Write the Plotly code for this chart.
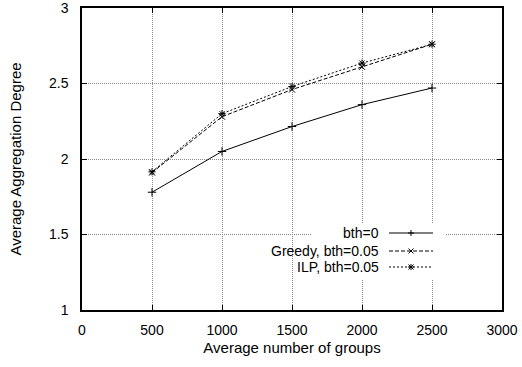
import plotly.graph_objects as go

groups = [500, 1000, 1500, 2000, 2500]
bth0 = [1.78, 2.05, 2.215, 2.36, 2.47]
greedy = [1.91, 2.28, 2.46, 2.61, 2.76]
ilp = [1.915, 2.30, 2.48, 2.635, 2.76]
names = ["bth=0", "Greedy, bth=0.05", "ILP, bth=0.05"]
xticks = [0, 500, 1000, 1500, 2000, 2500, 3000]
yticks = [1, 1.5, 2, 2.5, 3]

FONT = "Liberation Sans, Arial, Helvetica, sans-serif"
series = [
    (bth0, "solid", "cross-thin"),
    (greedy, "4px,2px", "x-thin"),
    (ilp, "2px,2px", "asterisk"),
]

fig = go.Figure()
for (vals, dash, sym), name in zip(series, names):
    fig.add_trace(go.Scatter(
        x=groups, y=vals, mode="lines+markers", name=name,
        line=dict(color="black", width=1, dash=dash),
        marker=dict(symbol=sym, size=6, color="black",
                    line=dict(color="black", width=1)),
        showlegend=False,
    ))

axis_common = dict(
    showline=True, linecolor="black", linewidth=1.5, mirror="ticks",
    ticks="inside", ticklen=5, tickwidth=1, tickcolor="black",
    showgrid=True, gridcolor="#8a8a8a", griddash="1px,1px", gridwidth=1,
    zeroline=False, automargin=False, ticklabeloverflow="allow",
    tickfont=dict(family=FONT, size=14, color="black"),
    title_font=dict(family=FONT, size=15, color="black"),
)
fig.update_xaxes(range=[0, 3000], tickvals=xticks, ticktext=[str(v) for v in xticks],
                 title_text="Average number of groups", title_standoff=6,
                 ticklabelstandoff=6, **axis_common)
fig.update_yaxes(range=[1, 3], tickvals=yticks, ticktext=[f"{v:g}" for v in yticks],
                 title_text="Average Aggregation Degree", title_standoff=24,
                 ticklabelstandoff=9, **axis_common)

L, R, T, B = 82, 20, 8, 57
W, H = 522, 367
pw, ph = W - L - R, H - T - B

def px(xp):
    return (xp - L) / pw

def py(yp):
    return (H - B - yp) / ph

shapes = []
# legend background masking grid
shapes.append(dict(type="rect", xref="paper", yref="paper",
                   x0=px(312), x1=px(445), y0=py(279), y1=py(224),
                   fillcolor="white", line=dict(width=0), layer="above"))
rows = [233, 251, 267]
annotations = []
for (vals, dash, sym), name, ry in zip(series, names, rows):
    shapes.append(dict(type="line", xref="paper", yref="paper",
                       x0=px(389), x1=px(433), y0=py(ry), y1=py(ry),
                       line=dict(color="black", width=1, dash=dash), layer="above"))
    cx = 411
    if sym in ("cross-thin", "asterisk"):
        shapes.append(dict(type="line", xref="paper", yref="paper",
                           x0=px(cx - 3), x1=px(cx + 3), y0=py(ry), y1=py(ry),
                           line=dict(color="black", width=1), layer="above"))
        shapes.append(dict(type="line", xref="paper", yref="paper",
                           x0=px(cx), x1=px(cx), y0=py(ry - 3), y1=py(ry + 3),
                           line=dict(color="black", width=1), layer="above"))
    if sym in ("x-thin", "asterisk"):
        shapes.append(dict(type="line", xref="paper", yref="paper",
                           x0=px(cx - 2.5), x1=px(cx + 2.5), y0=py(ry - 2.5), y1=py(ry + 2.5),
                           line=dict(color="black", width=1), layer="above"))
        shapes.append(dict(type="line", xref="paper", yref="paper",
                           x0=px(cx - 2.5), x1=px(cx + 2.5), y0=py(ry + 2.5), y1=py(ry - 2.5),
                           line=dict(color="black", width=1), layer="above"))
    annotations.append(dict(text=name, xref="paper", yref="paper",
                            x=px(381), y=py(ry), xanchor="right", yanchor="middle",
                            showarrow=False,
                            font=dict(family=FONT, size=14, color="black")))

fig.update_layout(
    width=W, height=H, margin=dict(l=L, r=R, t=T, b=B),
    plot_bgcolor="white", paper_bgcolor="white",
    shapes=shapes, annotations=annotations, showlegend=False,
)
fig.write_html("out.html")
